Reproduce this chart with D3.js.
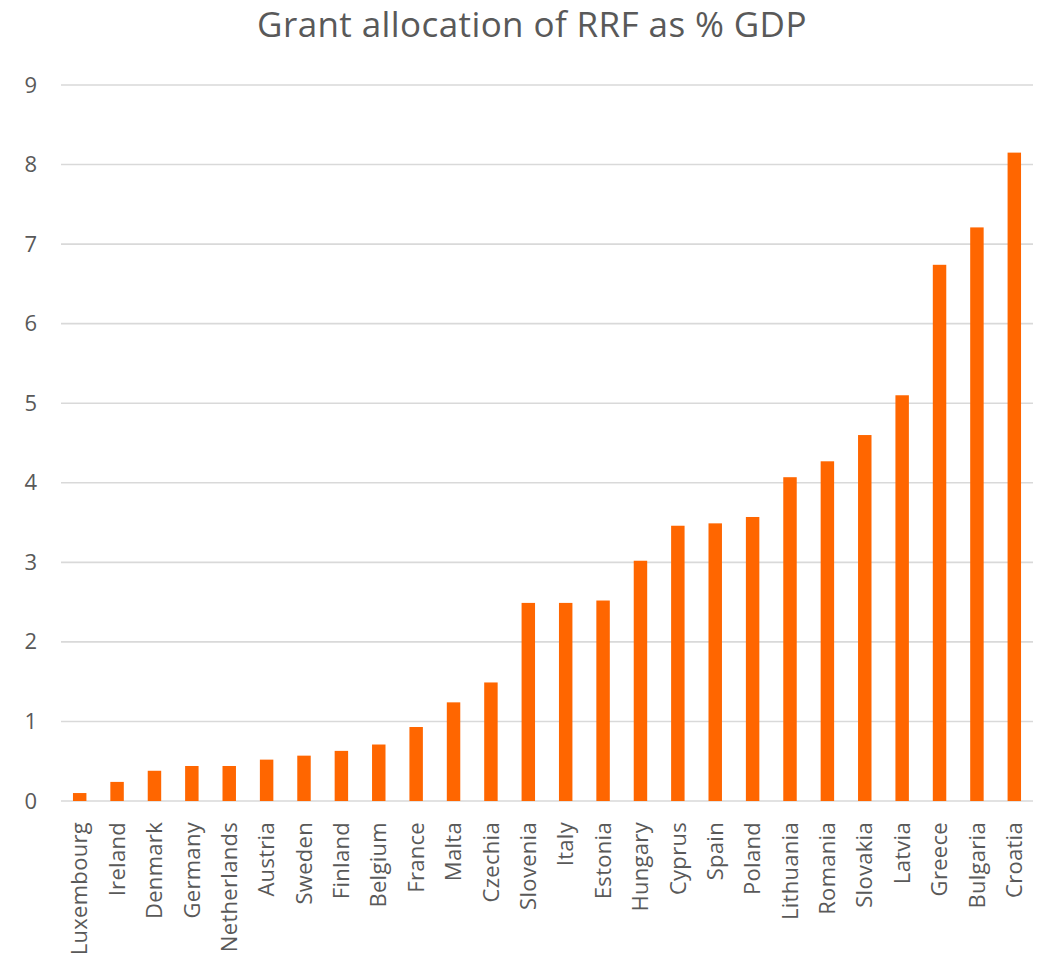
<!DOCTYPE html>
<html>
<head>
<meta charset="utf-8">
<script src="https://cdn.jsdelivr.net/npm/d3@7"></script>
<style>
  html, body { margin: 0; padding: 0; background: #fff; }
  svg { display: block; font-family: "Open Sans", Lato, sans-serif; }
</style>
</head>
<body>
<svg id="chart" width="1048" height="956"></svg>
<script>
// Grant allocation under the Recovery and Resilience Facility, % of GDP
const countries = ["Luxembourg", "Ireland", "Denmark", "Germany", "Netherlands", "Austria",
  "Sweden", "Finland", "Belgium", "France", "Malta", "Czechia", "Slovenia", "Italy",
  "Estonia", "Hungary", "Cyprus", "Spain", "Poland", "Lithuania", "Romania", "Slovakia",
  "Latvia", "Greece", "Bulgaria", "Croatia"];
const grantPct = [0.10, 0.24, 0.38, 0.44, 0.44, 0.52, 0.57, 0.63, 0.71, 0.93, 1.24, 1.49,
  2.49, 2.49, 2.52, 3.02, 3.46, 3.49, 3.57, 4.07, 4.27, 4.60, 5.10, 6.74, 7.21, 8.15];
const yTicks = [0, 1, 2, 3, 4, 5, 6, 7, 8, 9];
const title = "Grant allocation of RRF as % GDP";

const svg = d3.select("#chart");
const margin = { top: 85, right: 15, bottom: 155, left: 61 };
const W = 1048, H = 956;
const textColor = "#595959";

const x = d3.scaleBand()
  .domain(countries)
  .range([margin.left, W - margin.right])
  .paddingInner(0.64)
  .paddingOuter(0.32);

const y = d3.scaleLinear()
  .domain([0, 9])
  .range([H - margin.bottom, margin.top]);

// Title
svg.append("text")
  .attr("x", 532)
  .attr("y", 37)
  .attr("text-anchor", "middle")
  .attr("fill", textColor)
  .style("font-size", "35px")
  .style("letter-spacing", "0.4px")
  .text(title);

// Horizontal gridlines
svg.append("g")
  .selectAll("line")
  .data(yTicks)
  .join("line")
  .attr("x1", margin.left)
  .attr("x2", W - margin.right)
  .attr("y1", d => y(d))
  .attr("y2", d => y(d))
  .attr("stroke", "#d9d9d9")
  .attr("stroke-width", 1.6);

// Y axis labels
const yAxis = svg.append("g")
  .attr("transform", `translate(${margin.left},0)`)
  .call(d3.axisLeft(y).tickValues(yTicks).tickSize(0).tickPadding(24));
yAxis.select(".domain").remove();
yAxis.selectAll("text")
  .attr("fill", textColor)
  .style("font-size", "22px")
  .style("font-family", "'Open Sans', Lato, sans-serif");

// Bars
svg.append("g")
  .selectAll("rect")
  .data(countries)
  .join("rect")
  .attr("x", d => x(d))
  .attr("width", x.bandwidth())
  .attr("y", (d, i) => y(grantPct[i]))
  .attr("height", (d, i) => y(0) - y(grantPct[i]))
  .attr("fill", "#ff6600");

// Category labels, rotated
const xAxis = svg.append("g")
  .attr("transform", `translate(0,${y(0)})`)
  .call(d3.axisBottom(x).tickSize(0).tickPadding(0));
xAxis.select(".domain").remove();
xAxis.selectAll("text")
  .attr("transform", "rotate(-90)")
  .attr("x", -21)
  .attr("y", 0)
  .attr("dy", "0.35em")
  .attr("text-anchor", "end")
  .attr("fill", textColor)
  .style("font-size", "22px")
  .style("letter-spacing", "0.3px")
  .style("font-family", "'Open Sans', Lato, sans-serif");
</script>
</body>
</html>
